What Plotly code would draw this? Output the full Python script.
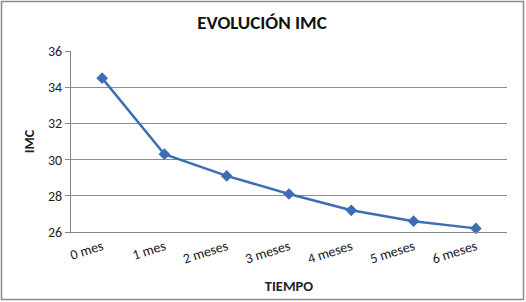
import plotly.graph_objects as go

categories = ["0 mes", "1 mes", "2 meses", "3 meses", "4 meses", "5 meses", "6 meses"]
imc = [34.5, 30.3, 29.1, 28.1, 27.2, 26.6, 26.2]
y_ticks = [26, 28, 30, 32, 34, 36]

W, H = 526, 302
L, R, T, B = 71, 19, 51, 70
pw, ph = W - L - R, H - T - B

fig = go.Figure()
fig.add_trace(go.Scatter(
    x=categories, y=imc, mode="lines+markers",
    line=dict(color="#3C6EB4", width=2.5),
    marker=dict(symbol="diamond", size=9, color="#3C6EB4"),
    showlegend=False, cliponaxis=False,
))

font_family = "Carlito, Calibri, 'Open Sans', sans-serif"
fig.update_layout(
    width=W, height=H,
    margin=dict(l=L, r=R, t=T, b=B, autoexpand=False),
    paper_bgcolor="white", plot_bgcolor="white",
    font=dict(family=font_family, size=13, color="#222222"),
    title=dict(text="<b>EVOLUCIÓN IMC</b>", x=262 / W, xanchor="center",
               y=1 - 22 / H, yanchor="middle", font=dict(size=19, color="#111111")),
    xaxis=dict(
        type="category", range=[-0.5, 6.5], tickangle=-18, automargin=False,
        showline=True, linecolor="#868686", linewidth=1,
        showgrid=False, ticks="", tickfont=dict(size=14),
        title=dict(text="<b>TIEMPO</b>", font=dict(size=14.5), standoff=14),
    ),
    yaxis=dict(
        range=[26, 36], tickvals=y_ticks, automargin=False,
        showline=True, linecolor="#868686", linewidth=1,
        showgrid=True, gridcolor="#8C8C8C", gridwidth=1,
        ticks="outside", ticklen=5, tickcolor="#868686",
        tickfont=dict(size=14), zeroline=False,
        title=dict(text="<b>IMC</b>", font=dict(size=14), standoff=10),
    ),
    shapes=[dict(
        type="rect", xref="paper", yref="paper",
        x0=-(L - 1.5) / pw, x1=1 + (R - 2.5) / pw,
        y0=-(B - 2.5) / ph, y1=1 + (T - 1.5) / ph,
        line=dict(color="#8A8A8A", width=1.5),
    )],
)

fig.write_html("out.html")
